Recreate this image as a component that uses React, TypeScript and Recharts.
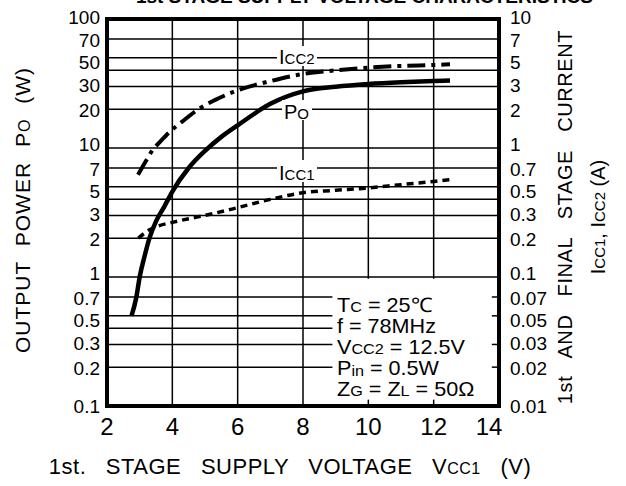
import { LineChart, Line, XAxis, YAxis, CartesianGrid, ReferenceArea, ReferenceLine } from 'recharts';

const FONT = '"Liberation Sans", Arial, Helvetica, sans-serif';

// x axis: 1st stage supply voltage Vcc1 (V)
const xTicks = [2, 4, 6, 8, 10, 12, 14];
// left axis: output power (W), grid at 1-2-3-4-5-7
const leftTicks = [0.1, 0.2, 0.3, 0.4, 0.5, 0.7, 1, 2, 3, 4, 5, 7, 10, 20, 30, 40, 50, 70, 100];
const leftUnlabelled = [0.4, 4, 40];
// right axis: stage currents (A)
const rightTicks = [0.01, 0.02, 0.03, 0.05, 0.07, 0.1, 0.2, 0.3, 0.5, 0.7, 1, 2, 3, 5, 7, 10];

// Po
const poVcc = [2.75, 2.9, 3.0, 3.15, 3.3, 3.5, 3.75, 4.0, 4.5, 5.0, 5.5, 6.0, 7.0, 8.0, 9.0, 10.0, 11.0, 12.0, 12.5];
const poWatts = [0.5, 0.7, 1.0, 1.45, 2.0, 2.7, 3.5, 4.6, 7.0, 9.5, 12.2, 15, 22, 27.5, 29.8, 31.3, 32.3, 33, 33.4];

// Icc2
const icc2Vcc = [2.95, 3.2, 3.4, 3.6, 3.9, 4.3, 4.8, 5.3, 6.0, 7.0, 8.0, 9.0, 10.0, 11.0, 12.0, 12.5];
const icc2Amps = [0.62, 0.8, 0.97, 1.1, 1.32, 1.6, 2.0, 2.35, 2.8, 3.3, 3.75, 4.0, 4.2, 4.33, 4.4, 4.45];

// Icc1
const icc1Vcc = [2.96, 3.3, 3.6, 4.0, 4.5, 5.0, 6.0, 7.0, 8.0, 9.0, 10.0, 11.0, 12.0, 12.5];
const icc1Amps = [0.2, 0.232, 0.25, 0.265, 0.283, 0.3, 0.345, 0.4, 0.45, 0.47, 0.49, 0.52, 0.55, 0.57];

const poData = poVcc.map((x, i) => ({ x, y: poWatts[i] }));
const icc2Data = icc2Vcc.map((x, i) => ({ x, y: icc2Amps[i] }));
const icc1Data = icc1Vcc.map((x, i) => ({ x, y: icc1Amps[i] }));

// labels of a log decade are crowded: nudge them apart a little
const nudge: Record<number, number> = { 1: -4, 7: 1, 5: 4, 3: -1, 2: 1 };

function mantissa(v: number) {
  return Math.round(v / Math.pow(10, Math.floor(Math.log10(v) + 1e-9)));
}

function XTick({ x, y, payload }: any) {
  const dx = payload.value === 14 ? -10 : 0;
  return (
    <text x={x + dx} y={y + 27} textAnchor="middle" fontSize={24} fontFamily={FONT} fill="#000">
      {payload.value}
    </text>
  );
}

function makeYTick(min: number, max: number, hidden: number[]) {
  return function YTick({ x, y, payload, textAnchor }: any) {
    const v = payload.value;
    if (hidden.includes(v)) return null;
    let off = nudge[mantissa(v)] || 0;
    if (v === min) off = 0;
    if (v === max) off = -2;
    return (
      <text x={x} y={y + off} dy="0.36em" textAnchor={textAnchor} fontSize={19} fontFamily={FONT} fill="#000">
        {String(v)}
      </text>
    );
  };
}

const LeftTick = makeYTick(0.1, 100, leftUnlabelled);
const RightTick = makeYTick(0.01, 10, []);

function Sub({ children, size = 15 }: any) {
  return <tspan fontSize={size}>{children}</tspan>;
}

export default function App() {
  return (
    <div style={{ position: 'absolute', left: 0, top: 0, width: 626, height: 486, background: '#fff' }}>
      <LineChart width={626} height={486} margin={{ top: 19, right: 0, left: 0, bottom: 0 }}>
        <CartesianGrid yAxisId="left" stroke="#000" strokeWidth={1.5} />
        <XAxis
          dataKey="x"
          type="number"
          domain={[2, 14]}
          ticks={xTicks}
          allowDataOverflow
          height={80}
          tickSize={0}
          tickLine={false}
          axisLine={false}
          tick={<XTick />}
          interval={0}
        />
        <YAxis
          yAxisId="left"
          scale="log"
          domain={[0.1, 100]}
          ticks={leftTicks}
          allowDataOverflow
          width={107}
          tickLine={false}
          axisLine={false}
          tickMargin={1}
          interval={0}
          tick={<LeftTick />}
        />
        <YAxis
          yAxisId="right"
          orientation="right"
          scale="log"
          domain={[0.01, 10]}
          ticks={rightTicks}
          allowDataOverflow
          width={127}
          tickLine={false}
          axisLine={false}
          tickMargin={5}
          interval={0}
          tick={<RightTick />}
        />
        <ReferenceArea yAxisId="left" x1={8.9} x2={14} y1={0.1} y2={0.97} fill="#fff" fillOpacity={1} stroke="none" />
        {[10, 12].map((v) => (
          <ReferenceLine
            key={`bt${v}`}
            yAxisId="left"
            segment={[{ x: v, y: 0.1 }, { x: v, y: 0.112 }]}
            stroke="#000"
            strokeWidth={1.5}
          />
        ))}
        {[0.7, 0.5, 0.3, 0.2].map((v) => (
          <ReferenceLine
            key={`rt${v}`}
            yAxisId="left"
            segment={[{ x: 13.78, y: v }, { x: 14, y: v }]}
            stroke="#000"
            strokeWidth={1.5}
          />
        ))}
        <Line
          yAxisId="right"
          data={icc1Data}
          dataKey="y"
          type="monotone"
          stroke="#000"
          strokeWidth={3.5}
          strokeDasharray="7 5"
          dot={false}
          isAnimationActive={false}
        />
        <Line
          yAxisId="right"
          data={icc2Data}
          dataKey="y"
          type="monotone"
          stroke="#000"
          strokeWidth={4}
          strokeDasharray="18 6 4 6"
          dot={false}
          isAnimationActive={false}
        />
        <Line
          yAxisId="left"
          data={poData}
          dataKey="y"
          type="monotone"
          stroke="#000"
          strokeWidth={4.5}
          dot={false}
          isAnimationActive={false}
        />
        <ReferenceArea
          yAxisId="left"
          x1={2}
          x2={14}
          y1={0.1}
          y2={100}
          fill="none"
          stroke="#000"
          strokeWidth={4}
          ifOverflow="visible"
        />
      </LineChart>

      <svg
        width={626}
        height={486}
        style={{ position: 'absolute', left: 0, top: 0, pointerEvents: 'none' }}
        fontFamily={FONT}
      >
        <text x={593} y={2.5} textAnchor="end" fontSize={19} fontWeight="bold">
          1st STAGE SUPPLY VOLTAGE CHARACTERISTICS
        </text>

        {/* curve labels */}
        <rect x={277} y={46} width={40} height={20} fill="#fff" />
        <text x={279} y={64} fontSize={20}>
          I<Sub size={15}>CC2</Sub>
        </text>
        <rect x={282} y={100} width={30} height={20} fill="#fff" />
        <text x={284} y={119} fontSize={20}>
          P<Sub size={15}>O</Sub>
        </text>
        <rect x={277} y={160} width={40} height={22} fill="#fff" />
        <text x={279} y={180} fontSize={20}>
          I<Sub size={15}>CC1</Sub>
        </text>

        {/* conditions */}
        <g fontSize={20} transform="translate(337,0) scale(1.08,1)">
          <text x={0} y={312}>
            T<Sub size={15}>C</Sub> = 25℃
          </text>
          <text x={0} y={333}>f = 78MHz</text>
          <text x={0} y={354}>
            V<Sub size={15}>CC2</Sub> = 12.5V
          </text>
          <text x={0} y={375}>
            P<tspan fontSize={15} dy={1}>in</tspan>
            <tspan dy={-1}> = 0.5W</tspan>
          </text>
          <text x={0} y={396}>
            Z<Sub size={15}>G</Sub> = Z<Sub size={15}>L</Sub> = 50Ω
          </text>
        </g>

        {/* axis titles */}
        <text
          transform="translate(30,210) rotate(-90)"
          textAnchor="middle"
          fontSize={21}
          letterSpacing={1}
          wordSpacing={8}
        >
          OUTPUT POWER P<Sub size={16}>O</Sub> (W)
        </text>
        <text
          transform="translate(572,217) rotate(-90)"
          textAnchor="middle"
          fontSize={20}
          letterSpacing={0.6}
          wordSpacing={12}
        >
          1st AND FINAL STAGE CURRENT
        </text>
        <text transform="translate(605,217) rotate(-90)" textAnchor="middle" fontSize={20}>
          I<Sub size={15}>CC1</Sub>, I<Sub size={15}>CC2</Sub> (A)
        </text>
        <text x={290} y={474} textAnchor="middle" fontSize={22} letterSpacing={0.5} wordSpacing={13}>
          1st. STAGE SUPPLY VOLTAGE V<Sub size={16}>CC1</Sub> (V)
        </text>
      </svg>
    </div>
  );
}
